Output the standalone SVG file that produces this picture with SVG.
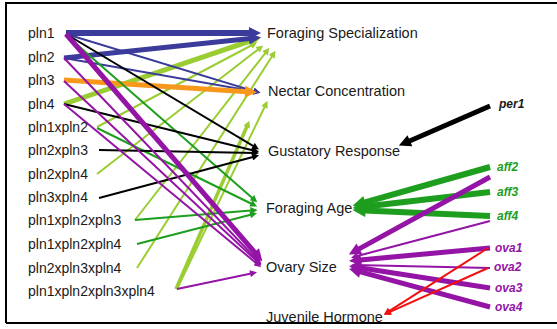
<svg xmlns="http://www.w3.org/2000/svg" width="557" height="329" viewBox="0 0 557 329">
<style>
text{font-family:"Liberation Sans",Arial,sans-serif;fill:#1a1a1a}
.l{font-size:14px}
.c{font-size:14.5px}
.r{font-size:12px;font-weight:bold;font-style:italic}
line{stroke-linecap:butt;fill:none}
.bl{stroke:#3b3b9b}.pu{stroke:#9414a6}.or{stroke:#f7981d}.lg{stroke:#9acd32}.dg{stroke:#1e9e1e}.bk{stroke:#000}.rd{stroke:#f01010}
.t{stroke-width:2}.T{stroke-width:5}.W{stroke-width:6}
</style>
<defs>
<marker id="blS" viewBox="0 0 10 10" refX="5" refY="5" markerWidth="9" markerHeight="7" markerUnits="userSpaceOnUse" orient="auto"><path d="M0,0L10,5L0,10z" fill="#3b3b9b"/></marker>
<marker id="blL" viewBox="0 0 10 10" refX="5" refY="5" markerWidth="14" markerHeight="12" markerUnits="userSpaceOnUse" orient="auto"><path d="M0,0L10,5L0,10z" fill="#3b3b9b"/></marker>
<marker id="puS" viewBox="0 0 10 10" refX="5" refY="5" markerWidth="9" markerHeight="7" markerUnits="userSpaceOnUse" orient="auto"><path d="M0,0L10,5L0,10z" fill="#9414a6"/></marker>
<marker id="puL" viewBox="0 0 10 10" refX="5" refY="5" markerWidth="14" markerHeight="12" markerUnits="userSpaceOnUse" orient="auto"><path d="M0,0L10,5L0,10z" fill="#9414a6"/></marker>
<marker id="orL" viewBox="0 0 10 10" refX="5" refY="5" markerWidth="14" markerHeight="12" markerUnits="userSpaceOnUse" orient="auto"><path d="M0,0L10,5L0,10z" fill="#f7981d"/></marker>
<marker id="lgS" viewBox="0 0 10 10" refX="5" refY="5" markerWidth="9" markerHeight="7" markerUnits="userSpaceOnUse" orient="auto"><path d="M0,0L10,5L0,10z" fill="#9acd32"/></marker>
<marker id="lgL" viewBox="0 0 10 10" refX="5" refY="5" markerWidth="14" markerHeight="12" markerUnits="userSpaceOnUse" orient="auto"><path d="M0,0L10,5L0,10z" fill="#9acd32"/></marker>
<marker id="dgS" viewBox="0 0 10 10" refX="5" refY="5" markerWidth="9" markerHeight="7" markerUnits="userSpaceOnUse" orient="auto"><path d="M0,0L10,5L0,10z" fill="#1e9e1e"/></marker>
<marker id="dgL" viewBox="0 0 10 10" refX="5" refY="5" markerWidth="14" markerHeight="13" markerUnits="userSpaceOnUse" orient="auto"><path d="M0,0L10,5L0,10z" fill="#1e9e1e"/></marker>
<marker id="bkS" viewBox="0 0 10 10" refX="5" refY="5" markerWidth="9" markerHeight="7" markerUnits="userSpaceOnUse" orient="auto"><path d="M0,0L10,5L0,10z" fill="#000"/></marker>
<marker id="bkL" viewBox="0 0 10 10" refX="5" refY="5" markerWidth="14" markerHeight="12" markerUnits="userSpaceOnUse" orient="auto"><path d="M0,0L10,5L0,10z" fill="#000"/></marker>
<marker id="rdS" viewBox="0 0 10 10" refX="5" refY="5" markerWidth="9" markerHeight="7" markerUnits="userSpaceOnUse" orient="auto"><path d="M0,0L10,5L0,10z" fill="#f01010"/></marker>
</defs>
<rect x="0" y="0" width="557" height="329" fill="#fff"/>
<path d="M6,323V3H560M6,323H560" fill="none" stroke="#000" stroke-width="2"/>

<g id="connectors">
<!-- light green to Foraging Specialization / Nectar -->
<line class="lg T" x1="64" y1="104" x2="255.4" y2="39.2" marker-end="url(#lgL)"/>
<line class="lg t" x1="97" y1="127" x2="254" y2="44" marker-end="url(#lgS)"/>
<line class="lg t" x1="97" y1="174" x2="260.4" y2="47.7" marker-end="url(#lgS)"/>
<line class="lg t" x1="135" y1="220" x2="267.2" y2="50.6" marker-end="url(#lgS)"/>
<line class="lg t" x1="137" y1="268" x2="273.6" y2="53.8" marker-end="url(#lgS)"/>
<line class="lg t" x1="177" y1="289" x2="266" y2="104" marker-end="url(#lgS)"/>
<line class="lg" stroke-width="3.5" x1="176" y1="289" x2="248" y2="124" marker-end="url(#lgS)"/>
<!-- blue -->
<line class="bl W" x1="66" y1="33" x2="255" y2="33" marker-end="url(#blL)"/>
<line class="bl T" x1="64" y1="58" x2="255" y2="38" marker-end="url(#blL)"/>
<line class="bl t" x1="66" y1="34" x2="257" y2="92" marker-end="url(#blS)"/>
<line class="bl t" x1="64" y1="58" x2="257" y2="92" marker-end="url(#blS)"/>
<!-- orange -->
<line class="or T" x1="64" y1="80" x2="251" y2="92" marker-end="url(#orL)"/>
<!-- dark green to Foraging Age -->
<line class="dg t" x1="66" y1="35" x2="254.6" y2="200" marker-end="url(#dgS)"/>
<line class="dg t" x1="97" y1="128" x2="254" y2="205" marker-end="url(#dgS)"/>
<line class="dg t" x1="135" y1="220" x2="254" y2="210.3" marker-end="url(#dgS)"/>
<line class="dg t" x1="137" y1="244" x2="253.6" y2="214" marker-end="url(#dgS)"/>
<!-- black to Gustatory Response -->
<line class="bk t" x1="66" y1="34" x2="256" y2="147.7" marker-end="url(#bkS)"/>
<line class="bk t" x1="64" y1="104" x2="255.6" y2="151" marker-end="url(#bkS)"/>
<line class="bk t" x1="99" y1="150" x2="255.5" y2="153" marker-end="url(#bkS)"/>
<line class="bk t" x1="99" y1="198" x2="255.7" y2="156.2" marker-end="url(#bkS)"/>
<line class="bk T" x1="490" y1="106" x2="404.4" y2="143.2" marker-end="url(#bkL)"/>
<!-- purple to Ovary Size -->
<line class="pu T" x1="66" y1="34" x2="258.4" y2="256.7" marker-end="url(#puL)"/>
<line class="pu t" x1="64" y1="58" x2="259" y2="261.7" marker-end="url(#puS)"/>
<line class="pu t" x1="64" y1="81" x2="258.7" y2="262.9" marker-end="url(#puS)"/>
<line class="pu t" x1="64" y1="104" x2="258.5" y2="265" marker-end="url(#puS)"/>
<line class="pu t" x1="177" y1="289" x2="253.6" y2="273" marker-end="url(#puS)"/>
<!-- right side -->
<line class="dg W" x1="490" y1="167" x2="358.8" y2="204.1" marker-end="url(#dgL)"/>
<line class="dg W" x1="490" y1="192" x2="359" y2="207.2" marker-end="url(#dgL)"/>
<line class="dg W" x1="490" y1="216" x2="359" y2="210.3" marker-end="url(#dgL)"/>
<line class="pu T" x1="490" y1="177" x2="354.1" y2="251.6" marker-end="url(#puL)"/>
<line class="pu t" x1="490" y1="221" x2="354.4" y2="256.8" marker-end="url(#puS)"/>
<line class="pu T" x1="490" y1="248" x2="355" y2="260.4" marker-end="url(#puL)"/>
<line class="pu t" x1="490" y1="268" x2="354.5" y2="265.1" marker-end="url(#puS)"/>
<line class="pu T" x1="490" y1="288" x2="354.9" y2="267" marker-end="url(#puL)"/>
<line class="pu T" x1="490" y1="307" x2="354.8" y2="270.3" marker-end="url(#puL)"/>
<line class="rd t" x1="488" y1="248" x2="386.8" y2="312.6" marker-end="url(#rdS)"/>
<line class="rd t" x1="488" y1="268" x2="387.1" y2="313.2" marker-end="url(#rdS)"/>
</g>

<g id="pln1"><text class="l" x="28" y="38">pln1</text></g>
<g id="pln2"><text class="l" x="28" y="62">pln2</text></g>
<g id="pln3"><text class="l" x="28" y="85">pln3</text></g>
<g id="pln4"><text class="l" x="28" y="109">pln4</text></g>
<g id="pln1xpln2"><text class="l" x="28" y="132">pln1xpln2</text></g>
<g id="pln2xpln3"><text class="l" x="28" y="155">pln2xpln3</text></g>
<g id="pln2xpln4"><text class="l" x="28" y="179">pln2xpln4</text></g>
<g id="pln3xpln4"><text class="l" x="28" y="202">pln3xpln4</text></g>
<g id="pln1xpln2xpln3"><text class="l" x="28" y="225">pln1xpln2xpln3</text></g>
<g id="pln1xpln2xpln4"><text class="l" x="28" y="249">pln1xpln2xpln4</text></g>
<g id="pln2xpln3xpln4"><text class="l" x="28" y="273">pln2xpln3xpln4</text></g>
<g id="pln1xpln2xpln3xpln4"><text class="l" x="28" y="296">pln1xpln2xpln3xpln4</text></g>

<g id="foraging-specialization"><text class="c" x="267" y="38">Foraging Specialization</text></g>
<g id="nectar-concentration"><text class="c" x="268" y="96">Nectar Concentration</text></g>
<g id="gustatory-response"><text class="c" x="268" y="156">Gustatory Response</text></g>
<g id="foraging-age"><text class="c" x="266" y="213">Foraging Age</text></g>
<g id="ovary-size"><text class="c" x="266" y="272">Ovary Size</text></g>
<g id="juvenile-hormone"><text class="c" x="266" y="322">Juvenile Hormone</text></g>

<g id="per1"><text class="r" x="499" y="108">per1</text></g>
<g id="aff2"><text class="r" x="497" y="171" style="fill:#1e9e1e">aff2</text></g>
<g id="aff3"><text class="r" x="497" y="196" style="fill:#1e9e1e">aff3</text></g>
<g id="aff4"><text class="r" x="497" y="220" style="fill:#1e9e1e">aff4</text></g>
<g id="ova1"><text class="r" x="495" y="252" style="fill:#9414a6">ova1</text></g>
<g id="ova2"><text class="r" x="494" y="271" style="fill:#9414a6">ova2</text></g>
<g id="ova3"><text class="r" x="495" y="292" style="fill:#9414a6">ova3</text></g>
<g id="ova4"><text class="r" x="495" y="311" style="fill:#9414a6">ova4</text></g>
</svg>
